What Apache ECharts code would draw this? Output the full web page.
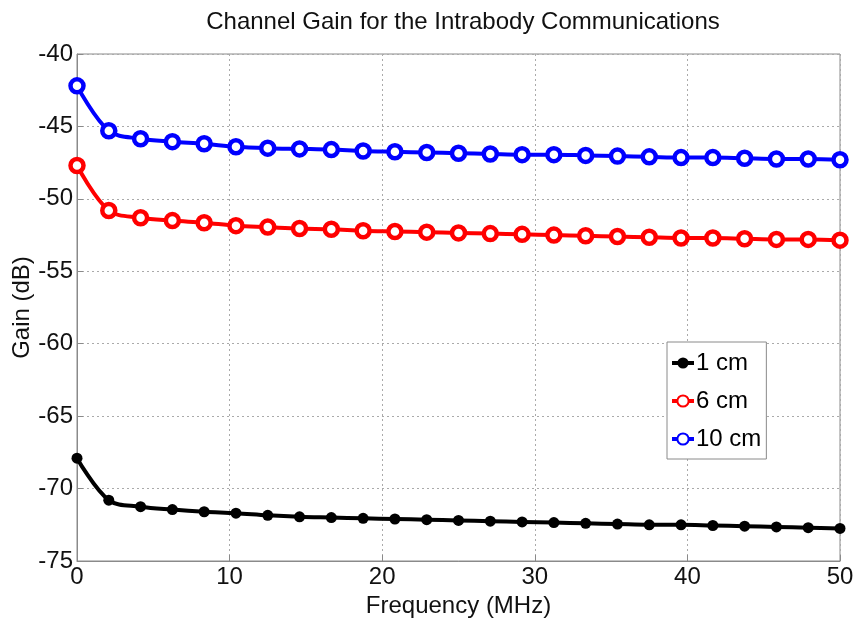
<!DOCTYPE html>
<html>
<head>
<meta charset="utf-8">
<script src="https://cdn.jsdelivr.net/npm/echarts@6/dist/echarts.min.js"></script>
<style>
html,body{margin:0;padding:0;background:#fff;}
#main{width:857px;height:628px;}
</style>
</head>
<body>
<div id="main"></div>
<script>
// frequency points, MHz (25 markers, 0..50)
var freq = [0, 2.083, 4.167, 6.25, 8.333, 10.417, 12.5, 14.583, 16.667, 18.75, 20.833, 22.917, 25,
	27.083, 29.167, 31.25, 33.333, 35.417, 37.5, 39.583, 41.667, 43.75, 45.833, 47.917, 50];
var gain1cm = [-67.9, -70.8, -71.25, -71.45, -71.6, -71.7, -71.85, -71.95, -72.0, -72.05, -72.1, -72.15, -72.2,
	-72.25, -72.3, -72.35, -72.4, -72.45, -72.5, -72.5, -72.55, -72.6, -72.65, -72.7, -72.75];
var gain6cm = [-47.7, -50.8, -51.3, -51.5, -51.65, -51.85, -51.95, -52.05, -52.1, -52.2, -52.25, -52.3, -52.35,
	-52.4, -52.45, -52.5, -52.55, -52.6, -52.65, -52.7, -52.7, -52.75, -52.8, -52.8, -52.85];
var gain10cm = [-42.2, -45.3, -45.85, -46.05, -46.2, -46.4, -46.5, -46.55, -46.6, -46.7, -46.75, -46.8, -46.85,
	-46.9, -46.95, -46.95, -47.0, -47.05, -47.1, -47.15, -47.15, -47.2, -47.25, -47.25, -47.3];
var xTicks = [0, 10, 20, 30, 40, 50];
var yTicks = [-75, -70, -65, -60, -55, -50, -45, -40];

function pairs(ys) {
	var out = [];
	for (var i = 0; i < freq.length; i++) out.push([freq[i], ys[i]]);
	return out;
}

var font = '"Liberation Sans", Arial, sans-serif';
var myChart = echarts.init(document.getElementById('main'));
var option = {
	animation: false,
	backgroundColor: '#fff',
	title: {
		text: 'Channel Gain for the Intrabody Communications',
		left: 458, top: 5, textAlign: 'center',
		textStyle: {fontFamily: font, fontSize: 24, fontWeight: 'normal', color: '#111'}
	},
	grid: {
		left: 77, right: 17, top: 54, bottom: 67,
		outerBoundsMode: 'none',
		show: true, borderColor: '#8a8a8a', borderWidth: 1
	},
	legend: {
		orient: 'vertical',
		left: 667, top: 342,
		itemWidth: 22, itemHeight: 14, itemGap: 14,
		padding: [9, 5, 8, 3],
		backgroundColor: '#fff',
		borderColor: '#8a8a8a', borderWidth: 1, borderRadius: 0,
		lineStyle: {width: 4},
		textStyle: {fontFamily: font, fontSize: 24, color: '#000', padding: [0, 0, 0, -3]},
		data: ['1 cm', '6 cm', '10 cm']
	},
	xAxis: {
		type: 'value', min: 0, max: 50, interval: 10,
		name: 'Frequency (MHz)', nameLocation: 'middle', nameGap: 33, nameMoveOverlap: false,
		nameTextStyle: {fontFamily: font, fontSize: 24, color: '#111'},
		axisLine: {show: true, lineStyle: {color: '#8a8a8a', width: 1}},
		axisTick: {show: true, inside: true, length: 6, lineStyle: {color: '#8a8a8a'}},
		axisLabel: {fontFamily: font, fontSize: 24, color: '#111', margin: 4},
		splitLine: {show: true, lineStyle: {color: '#aaa', type: [2, 3], width: 1}}
	},
	yAxis: {
		type: 'value', min: -75, max: -40, interval: 5,
		name: 'Gain (dB)', nameLocation: 'middle', nameGap: 43, nameRotate: 90, nameMoveOverlap: false,
		nameTextStyle: {fontFamily: font, fontSize: 24, color: '#111'},
		axisLine: {show: true, lineStyle: {color: '#8a8a8a', width: 1}},
		axisTick: {show: true, inside: true, length: 6, lineStyle: {color: '#8a8a8a'}},
		axisLabel: {fontFamily: font, fontSize: 24, color: '#111', margin: 4},
		splitLine: {show: true, lineStyle: {color: '#aaa', type: [2, 3], width: 1}}
	},
	series: [
		{
			name: '1 cm', type: 'line', smooth: 0.35, data: pairs(gain1cm),
			symbol: 'circle', symbolSize: 11,
			lineStyle: {color: '#000', width: 4},
			itemStyle: {color: '#000'}
		},
		{
			name: '6 cm', type: 'line', smooth: 0.35, data: pairs(gain6cm),
			symbol: 'circle', symbolSize: 13,
			lineStyle: {color: '#ff0000', width: 4},
			itemStyle: {color: '#fff', borderColor: '#ff0000', borderWidth: 4.5}
		},
		{
			name: '10 cm', type: 'line', smooth: 0.35, data: pairs(gain10cm),
			symbol: 'circle', symbolSize: 13,
			lineStyle: {color: '#0000ff', width: 4},
			itemStyle: {color: '#fff', borderColor: '#0000ff', borderWidth: 4.5}
		}
	]
};
myChart.setOption(option);
</script>
</body>
</html>
